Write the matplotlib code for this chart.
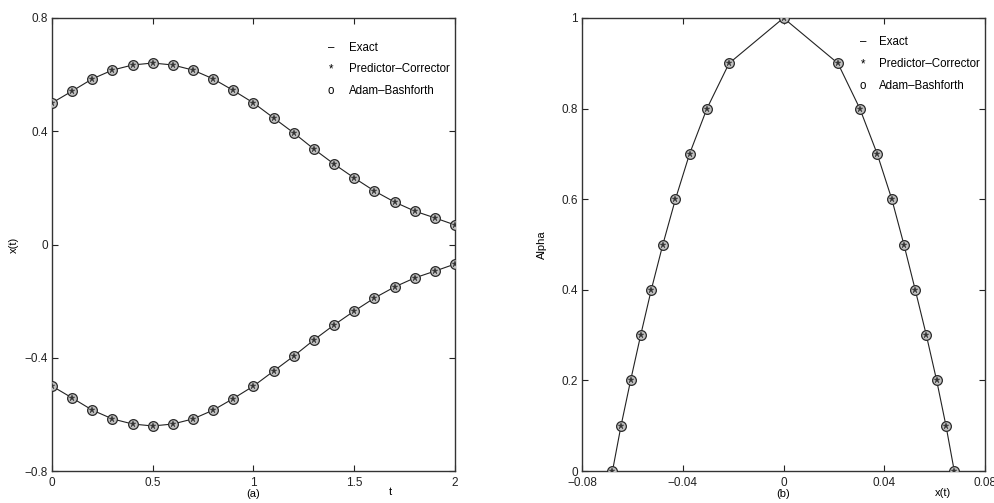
import matplotlib
matplotlib.use('Agg')
import matplotlib.pyplot as plt

plt.rcParams['font.family'] = ['Liberation Sans', 'DejaVu Sans']
plt.rcParams['font.size'] = 8

# panel (a): x(t) against t
t = [0.0, 0.1, 0.2, 0.3, 0.4, 0.5, 0.6, 0.7, 0.8, 0.9, 1.0,
     1.1, 1.2, 1.3, 1.4, 1.5, 1.6, 1.7, 1.8, 1.9, 2.0]
x_upper = [0.500, 0.542, 0.585, 0.616, 0.634, 0.641, 0.634, 0.616, 0.585, 0.544, 0.500,
           0.447, 0.394, 0.337, 0.284, 0.235, 0.189, 0.150, 0.118, 0.094, 0.069]
x_lower = [-0.500, -0.542, -0.585, -0.616, -0.634, -0.641, -0.634, -0.616, -0.585, -0.544, -0.500,
           -0.447, -0.394, -0.337, -0.284, -0.235, -0.189, -0.150, -0.118, -0.094, -0.069]

# panel (b): alpha against x(t)
alpha = [0.0, 0.1, 0.2, 0.3, 0.4, 0.5, 0.6, 0.7, 0.8, 0.9, 1.0,
         0.9, 0.8, 0.7, 0.6, 0.5, 0.4, 0.3, 0.2, 0.1, 0.0]
x_alpha = [-0.0679, -0.0645, -0.0607, -0.0567, -0.0525, -0.0479, -0.0429, -0.0373, -0.0304, -0.0216, 0.0,
           0.0216, 0.0303, 0.0372, 0.0430, 0.0478, 0.0523, 0.0567, 0.0608, 0.0645, 0.0678]

legend_items = [('–', 'Exact'), ('*', 'Predictor–Corrector'), ('o', 'Adam–Bashforth')]

fig = plt.figure(figsize=(9.95, 5.03), dpi=100)
ax1 = fig.add_axes([52 / 995, 1 - 471 / 503, 403 / 995, 453 / 503])
ax2 = fig.add_axes([582 / 995, 1 - 471 / 503, 403 / 995, 453 / 503])

mk_color = '#2a2a2a'


def draw(ax, xs, ys):
    ax.plot(xs, ys, color='#222222', linewidth=0.8, zorder=2)
    ax.plot(xs, ys, linestyle='none', marker='o', markersize=7, markerfacecolor='#c0c0c0',
            markeredgecolor=mk_color, markeredgewidth=0.9, zorder=3)
    ax.plot(xs, ys, linestyle='none', marker='*', markersize=5, color='#333333',
            markeredgewidth=0.3, zorder=4)


draw(ax1, t, x_upper)
draw(ax1, t, x_lower)
ax1.set_xlim(0, 2)
ax1.set_ylim(-0.8, 0.8)
ax1.set_xticks([0, 0.5, 1, 1.5, 2])
ax1.set_xticklabels(['0', '0.5', '1', '1.5', '2'])
ax1.set_yticks([-0.8, -0.4, 0, 0.4, 0.8])
ax1.set_yticklabels(['−0.8', '−0.4', '0', '0.4', '0.8'])
ax1.set_ylabel('x(t)', labelpad=4)
ax1.text(0.5, -0.05, '(a)', transform=ax1.transAxes, ha='center', va='center')
ax1.text(0.84, -0.046, 't', transform=ax1.transAxes, ha='center', va='center')

draw(ax2, x_alpha, alpha)
ax2.set_xlim(-0.08, 0.08)
ax2.set_ylim(0, 1)
ax2.set_xticks([-0.08, -0.04, 0, 0.04, 0.08])
ax2.set_xticklabels(['−0.08', '−0.04', '0', '0.04', '0.08'])
ax2.set_yticks([0, 0.2, 0.4, 0.6, 0.8, 1])
ax2.set_yticklabels(['0', '0.2', '0.4', '0.6', '0.8', '1'])
ax2.set_ylabel('Alpha', labelpad=10)
ax2.text(0.5, -0.05, '(b)', transform=ax2.transAxes, ha='center', va='center')
ax2.text(0.895, -0.048, 'x(t)', transform=ax2.transAxes, ha='center', va='center')

for ax in (ax1, ax2):
    ax.tick_params(direction='in', length=4, width=0.8, top=True, right=True,
                   labelsize=8.5, colors='#222222')
    ax.tick_params(axis='x', pad=4)
    ax.tick_params(axis='y', pad=3)
    for s in ax.spines.values():
        s.set_linewidth(1.0)
        s.set_color('#333333')

# text legends, drawn MATLAB style
leg1_sym_x, leg1_txt_x, leg1_y = 0.692, 0.737, [0.934, 0.887, 0.839]
leg2_sym_x, leg2_txt_x, leg2_y = 0.697, 0.737, [0.947, 0.898, 0.850]
for ax, sx, tx, ys in ((ax1, leg1_sym_x, leg1_txt_x, leg1_y), (ax2, leg2_sym_x, leg2_txt_x, leg2_y)):
    for (sym, lab), y in zip(legend_items, ys):
        ax.text(sx, y, sym, transform=ax.transAxes, ha='center', va='center', fontsize=8.3)
        ax.text(tx, y, lab, transform=ax.transAxes, ha='left', va='center', fontsize=8.3)

fig.savefig('out.png', dpi=100)
